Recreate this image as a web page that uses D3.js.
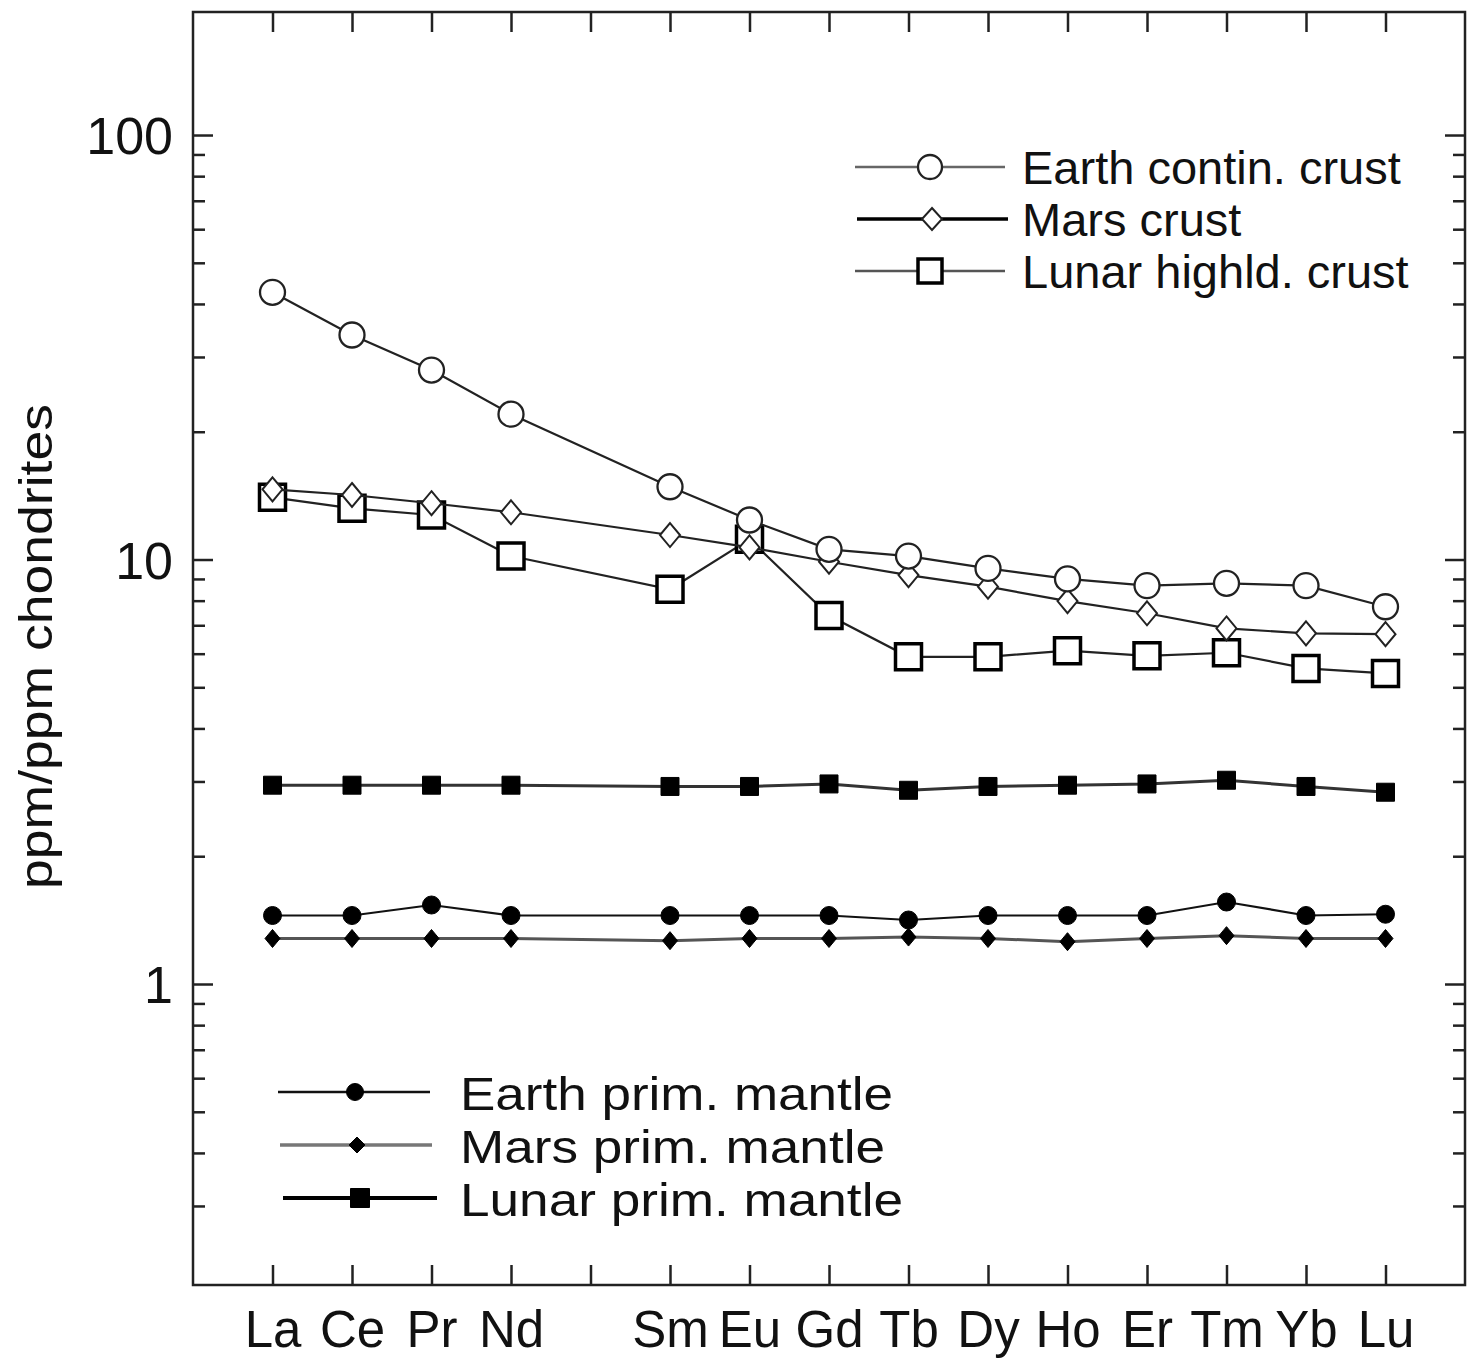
<!DOCTYPE html>
<html>
<head>
<meta charset="utf-8">
<script src="https://cdn.jsdelivr.net/npm/d3@7"></script>
<style>
  html, body { margin: 0; padding: 0; background: #fff; }
  svg { display: block; font-family: "Liberation Sans", Arial, Helvetica, sans-serif; }
</style>
</head>
<body>
<svg id="chart" width="1474" height="1361"></svg>
<script>
// ---- data ----
const elements   = ["La","Ce","Pr","Nd","Pm","Sm","Eu","Gd","Tb","Dy","Ho","Er","Tm","Yb","Lu"];
const tickLabels = ["La","Ce","Pr","Nd","","Sm","Eu","Gd","Tb","Dy","Ho","Er","Tm","Yb","Lu"];

const earthCrust  = [42.6, 33.8, 27.95, 22.0, null, 14.84, 12.39, 10.57, 10.19, 9.53, 9.0, 8.68, 8.79, 8.68, 7.74];
const marsCrust   = [14.63, 14.19, 13.57, 12.92, null, 11.42, 10.68, 9.88, 9.19, 8.63, 7.98, 7.47, 6.88, 6.70, 6.67];
const lunarCrust  = [14.01, 13.20, 12.73, 10.19, null, 8.51, 11.16, 7.38, 5.90, 5.90, 6.10, 5.93, 6.03, 5.54, 5.39];
const lunarMantle = [2.94, 2.94, 2.94, 2.94, null, 2.92, 2.92, 2.96, 2.86, 2.92, 2.94, 2.96, 3.02, 2.92, 2.83];
const earthMantle = [1.45, 1.45, 1.535, 1.45, null, 1.45, 1.45, 1.45, 1.415, 1.45, 1.45, 1.45, 1.56, 1.45, 1.46];
const marsMantle  = [1.28, 1.28, 1.28, 1.28, null, 1.265, 1.28, 1.28, 1.29, 1.28, 1.258, 1.28, 1.30, 1.28, 1.28];

const majorTicks = [1, 10, 100];
const majorTickLabels = ["1", "10", "100"];
const yLabel = "ppm/ppm chondrites";

const crustLegend  = ["Earth contin. crust", "Mars crust", "Lunar highld. crust"];
const mantleLegend = ["Earth prim. mantle", "Mars prim. mantle", "Lunar prim. mantle"];

// ---- layout ----
const svg = d3.select("#chart");
const L = 193, R = 1465, T = 12, B = 1285;
const x = d3.scaleLinear().domain([-1, 15]).range([L, R]);
const y = d3.scaleLog().domain([0.1954, 194.9]).range([B, T]);
const FONT = "'Liberation Sans', Arial, Helvetica, sans-serif";

svg.append("rect").attr("width", 1474).attr("height", 1361).attr("fill", "#fff");

// minor ticks (2..9 per decade, inside the frame)
const minorTicks = [];
[0.1, 1, 10, 100].forEach(d => { for (let k = 2; k <= 9; k++) { const v = +(d * k).toPrecision(3); if (v > 0.25 && v <= y.domain()[1]) minorTicks.push(v); } });

const axisColor = "#222";
function styleAxis(g) {
  g.select(".domain").remove();
  g.selectAll(".tick line").attr("stroke", axisColor).attr("stroke-width", 2.5);
}

// bottom axis
svg.append("g").attr("transform", `translate(0,${B})`)
  .call(d3.axisBottom(x).tickValues(d3.range(0, 15)).tickSize(-20).tickFormat(i => tickLabels[i]))
  .call(styleAxis)
  .call(g => g.selectAll(".tick text")
    .attr("y", 62).attr("dy", 0).attr("fill", "#111")
    .style("font-size", "51px").style("font-family", FONT));
// top axis
svg.append("g").attr("transform", `translate(0,${T})`)
  .call(d3.axisTop(x).tickValues(d3.range(0, 15)).tickSize(-20).tickFormat(""))
  .call(styleAxis);
// left axis majors
svg.append("g").attr("transform", `translate(${L},0)`)
  .call(d3.axisLeft(y).tickValues(majorTicks).tickSize(-20).tickFormat((d, i) => majorTickLabels[i]))
  .call(styleAxis)
  .call(g => g.selectAll(".tick text")
    .attr("x", -20).attr("dy", "0.36em").attr("fill", "#111")
    .style("font-size", "52px").style("font-family", FONT));
svg.append("g").attr("transform", `translate(${L},0)`)
  .call(d3.axisLeft(y).tickValues(minorTicks).tickSize(-12).tickFormat(""))
  .call(styleAxis);
// right axis
svg.append("g").attr("transform", `translate(${R},0)`)
  .call(d3.axisRight(y).tickValues(majorTicks).tickSize(-20).tickFormat(""))
  .call(styleAxis);
svg.append("g").attr("transform", `translate(${R},0)`)
  .call(d3.axisRight(y).tickValues(minorTicks).tickSize(-12).tickFormat(""))
  .call(styleAxis);

// frame
svg.append("rect").attr("x", L).attr("y", T).attr("width", R - L).attr("height", B - T)
  .attr("fill", "none").attr("stroke", axisColor).attr("stroke-width", 2.5);

// y label
svg.append("text")
  .attr("transform", `translate(52,647) rotate(-90)`)
  .attr("x", -242).attr("textLength", 485).attr("lengthAdjust", "spacingAndGlyphs")
  .attr("fill", "#111")
  .style("font-size", "47px").style("font-family", FONT)
  .text(yLabel);

// ---- marker shapes ----
const shapes = {
  circle: (r) => `M${-r},0A${r},${r} 0 1,0 ${r},0A${r},${r} 0 1,0 ${-r},0Z`,
  diamond: (w, h) => `M0,${-h}L${w},0L0,${h}L${-w},0Z`,
  square: (s) => `M${-s/2},${-s/2}H${s/2}V${s/2}H${-s/2}Z`
};

const series = [
  { data: lunarMantle, line: "#333", lw: 3,   marker: shapes.square(18),      fill: "#000", ms: "#000", mw: 1 },
  { data: earthMantle, line: "#111", lw: 2.2, marker: shapes.circle(9),       fill: "#000", ms: "#000", mw: 1 },
  { data: marsMantle,  line: "#555", lw: 3,   marker: shapes.diamond(7.5, 9), fill: "#000", ms: "#000", mw: 1 },
  { data: lunarCrust,  line: "#222", lw: 2.2, marker: shapes.square(26),      fill: "#fff", ms: "#000", mw: 3.5 },
  { data: marsCrust,   line: "#222", lw: 2.2, marker: shapes.diamond(10, 12), fill: "#fff", ms: "#222", mw: 2 },
  { data: earthCrust,  line: "#222", lw: 2.2, marker: shapes.circle(12.5),    fill: "#fff", ms: "#222", mw: 2.3 }
];

const line = d3.line().x(d => x(d.i)).y(d => y(d.v));
series.forEach(s => {
  const pts = s.data.map((v, i) => ({ i, v })).filter(d => d.v != null);
  const g = svg.append("g");
  g.append("path").attr("d", line(pts)).attr("fill", "none")
    .attr("stroke", s.line).attr("stroke-width", s.lw);
  g.selectAll("path.m").data(pts).join("path").attr("class", "m")
    .attr("transform", d => `translate(${x(d.i)},${y(d.v)})`)
    .attr("d", s.marker).attr("fill", s.fill).attr("stroke", s.ms).attr("stroke-width", s.mw);
});

// ---- legends ----
const crustLeg = [
  { y: 167, x1: 855, x2: 1005, mx: 930, line: "#666", lw: 2.5, marker: shapes.circle(12), fill: "#fff", ms: "#222", mw: 2.3 },
  { y: 219, x1: 857, x2: 1008, mx: 932, line: "#000", lw: 3.5, marker: shapes.diamond(10, 11), fill: "#fff", ms: "#222", mw: 2 },
  { y: 271, x1: 855, x2: 1005, mx: 930, line: "#555", lw: 2.5, marker: shapes.square(24), fill: "#fff", ms: "#000", mw: 3.5 }
];
crustLeg.forEach((d, i) => {
  const g = svg.append("g");
  g.append("line").attr("x1", d.x1).attr("x2", d.x2).attr("y1", d.y).attr("y2", d.y)
    .attr("stroke", d.line).attr("stroke-width", d.lw);
  g.append("path").attr("transform", `translate(${d.mx},${d.y})`).attr("d", d.marker)
    .attr("fill", d.fill).attr("stroke", d.ms).attr("stroke-width", d.mw);
  g.append("text").attr("x", 1022).attr("y", d.y + 17).attr("fill", "#111")
    .style("font-size", "47px").style("font-family", FONT).text(crustLegend[i]);
});

const mantleLeg = [
  { y: 1092, x1: 278, x2: 430, mx: 355, line: "#111", lw: 2.5, marker: shapes.circle(8.5), len: 433 },
  { y: 1145, x1: 280, x2: 432, mx: 357, line: "#777", lw: 3.5, marker: shapes.diamond(8, 8), len: 425 },
  { y: 1198, x1: 283, x2: 437, mx: 360, line: "#000", lw: 4, marker: shapes.square(19), len: 443 }
];
mantleLeg.forEach((d, i) => {
  const g = svg.append("g");
  g.append("line").attr("x1", d.x1).attr("x2", d.x2).attr("y1", d.y).attr("y2", d.y)
    .attr("stroke", d.line).attr("stroke-width", d.lw);
  g.append("path").attr("transform", `translate(${d.mx},${d.y})`).attr("d", d.marker)
    .attr("fill", "#000").attr("stroke", "#000").attr("stroke-width", 1);
  g.append("text").attr("x", 460).attr("y", d.y + 18).attr("fill", "#111")
    .attr("textLength", d.len).attr("lengthAdjust", "spacingAndGlyphs")
    .style("font-size", "47px").style("font-family", FONT).text(mantleLegend[i]);
});
</script>
</body>
</html>
